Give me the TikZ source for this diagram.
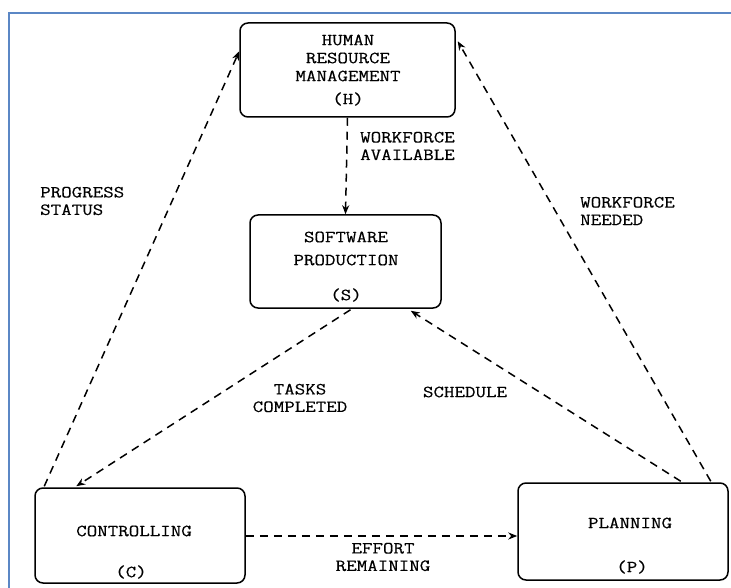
\documentclass[tikz,border=0pt]{standalone}
\usepackage{fontspec}
\setmonofont[FakeStretch=1.2,FakeBold=0.4]{Latin Modern Mono}
\usetikzlibrary{arrows.meta,calc}
\definecolor{framebl}{HTML}{5B87C5}
\tikzset{
  box/.style={draw, line width=1.5pt, rounded corners=8pt, minimum width=#1, inner sep=0pt},
  flow/.style={draw, line width=1.5pt, dash pattern=on 8pt off 6pt, -{Stealth[length=9pt,width=7pt]}},
  txt/.style={font=\ttfamily\fontsize{17}{17.5}\selectfont, inner sep=0pt, anchor=center},
  ltxt/.style={txt, align=left, anchor=west},
  ctxt/.style={txt, align=center}
}
\begin{document}
\begin{tikzpicture}[x=1pt,y=-1pt]
\useasboundingbox (0,0) rectangle (731,588);
% page frame
\draw[framebl, line width=2pt] (731,13) -- (9,13) -- (9,588);

% boxes
\node[box=215pt, minimum height=94pt] (H) at (347.5,70) {};
\node[box=191pt, minimum height=93pt] (S) at (345.5,261.5) {};
\node[box=210pt, minimum height=95pt] (C) at (140,535.5) {};
\node[box=210pt, minimum height=97pt] (P) at (623,531.5) {};

% box captions
\node[txt] (h1) at (348,40) {HUMAN};
\node[txt] (h2) at (348,58) {RESOURCE};
\node[txt] (h3) at (348,76) {MANAGEMENT};
\node[txt] (h4) at (348,99) {(H)};
\node[txt] (s1) at (346,237) {SOFTWARE};
\node[txt] (s2) at (346,260) {PRODUCTION};
\node[txt] (s3) at (346,295) {(S)};
\node[txt] (c1) at (134,531) {CONTROLLING};
\node[txt] (c2) at (131,572) {(C)};
\node[txt] (p1) at (630,523) {PLANNING};
\node[txt] (p2) at (632,567) {(P)};

% flows
\draw[flow] (H.south) -- (S.north);
\draw[flow] ($(C.north west)+(10,-1)$) -- ($(H.north west)+(0,29)$);
\draw[flow] ($(P.north east)+(-18,-1)$) -- ($(H.north east)+(2,19)$);
\draw[flow] ($(S.south)+(5,1)$) -- ($(C.north west)+(42,-1)$);
\draw[flow] ($(P.north east)+(-48,-1)$) -- ($(S.south east)+(-31,2)$);
\draw[flow] (C.east |- 0,536) -- (P.west |- 0,536);

% flow labels
\node[ltxt] (l1) at (360,146) {WORKFORCE\\AVAILABLE};
\node[ltxt] (l2) at (40,201) {PROGRESS\\STATUS};
\node[ltxt] (l3) at (580,211) {WORKFORCE\\NEEDED};
\node[ctxt] (l4) at (300,398) {TASKS\\COMPLETED};
\node[ctxt] (l5) at (465,392) {SCHEDULE};
\node[ctxt] (l6) at (383,557) {EFFORT\\REMAINING};
\end{tikzpicture}
\end{document}
